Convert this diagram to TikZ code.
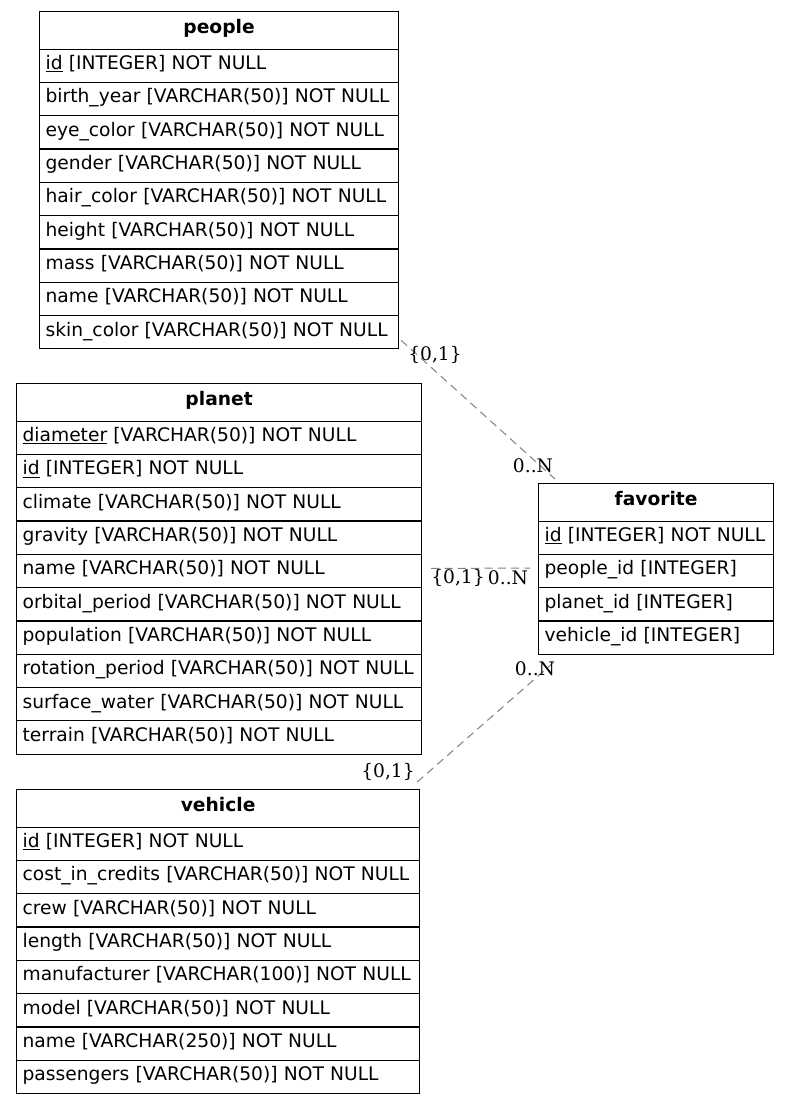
\documentclass[tikz,border=0pt]{standalone}
\usepackage{fontspec}
\newfontfamily\tblfont{DejaVu Sans}
\newfontfamily\lblfont{DejaVu Serif}
\begin{document}
\begin{tikzpicture}[x=0.75pt,y=-0.75pt,
  cell/.style={draw=black, line width=0.9pt, rectangle, anchor=north west,
    inner ysep=0pt, text height=10pt, text depth=4.2pt,
    font=\tblfont\fontsize{14}{16}\selectfont},
  head/.style={cell, minimum height=28.125pt, inner xsep=0pt, align=center, text depth=4.6pt},
  field/.style={cell, minimum height=24.975pt, inner xsep=4.5pt, align=left},
  rel/.style={draw=gray, line width=0.75pt, dash pattern=on 6pt off 4pt},
  card/.style={inner sep=0pt, font=\lblfont\fontsize{14}{16}\selectfont}]

% One entity table: #1 name, #2 left x, #3 top y, #4 width (px), #5 title, #6 field rows
\def\ertable#1#2#3#4#5#6{%
  \pgfmathsetmacro\ertw{#4*0.75-9}%
  \pgfmathsetmacro\ermw{#4*0.75}%
  \node[head, minimum width=\ermw pt] (#1-h) at (#2,#3) {\textbf{#5}};
  \foreach \fld [count=\i] in {#6} {
    \node[field, text width=\ertw pt] (#1-\i) at ({#2},{#3+37.5+(\i-1)*33.3}) {\fld};
  }%
}

\fill[white] (0,0) rectangle (789,1103);

\ertable{people}{39}{11}{359}{people}{%
  \underline{id} [INTEGER] NOT NULL,
  birth\_year [VARCHAR(50)] NOT NULL,
  eye\_color [VARCHAR(50)] NOT NULL,
  gender [VARCHAR(50)] NOT NULL,
  hair\_color [VARCHAR(50)] NOT NULL,
  height [VARCHAR(50)] NOT NULL,
  mass [VARCHAR(50)] NOT NULL,
  name [VARCHAR(50)] NOT NULL,
  skin\_color [VARCHAR(50)] NOT NULL}

\ertable{planet}{16}{383}{405}{planet}{%
  \underline{diameter} [VARCHAR(50)] NOT NULL,
  \underline{id} [INTEGER] NOT NULL,
  climate [VARCHAR(50)] NOT NULL,
  gravity [VARCHAR(50)] NOT NULL,
  name [VARCHAR(50)] NOT NULL,
  orbital\_period [VARCHAR(50)] NOT NULL,
  population [VARCHAR(50)] NOT NULL,
  rotation\_period [VARCHAR(50)] NOT NULL,
  surface\_water [VARCHAR(50)] NOT NULL,
  terrain [VARCHAR(50)] NOT NULL}

\ertable{vehicle}{16}{789}{403}{vehicle}{%
  \underline{id} [INTEGER] NOT NULL,
  cost\_in\_credits [VARCHAR(50)] NOT NULL,
  crew [VARCHAR(50)] NOT NULL,
  length [VARCHAR(50)] NOT NULL,
  manufacturer [VARCHAR(100)] NOT NULL,
  model [VARCHAR(50)] NOT NULL,
  name [VARCHAR(250)] NOT NULL,
  passengers [VARCHAR(50)] NOT NULL}

\ertable{favorite}{538}{483}{235}{favorite}{%
  \underline{id} [INTEGER] NOT NULL,
  people\_id [INTEGER],
  planet\_id [INTEGER],
  vehicle\_id [INTEGER]}

% relationships
\draw[rel] ([shift={(2,-9)}]people-9.south east) -- ([shift={(17,-4)}]favorite-h.north west);
\draw[rel] ([shift={(9,-2.5)}]planet-5.east) -- ([shift={(-8,-3)}]favorite-2.west);
\draw[rel] ([shift={(-3,-7)}]vehicle-h.north east) -- ([shift={(15,8)}]favorite-4.south west);

% cardinalities
\node[card] (pf-one)  at (435,355) {\{0,1\}};
\node[card] (pf-many) at (533,466) {0..N};
\node[card] (lf-one)  at (458,578) {\{0,1\}};
\node[card] (lf-many) at (508,578) {0..N};
\node[card] (vf-one)  at (388,772) {\{0,1\}};
\node[card] (vf-many) at (535,669) {0..N};

\end{tikzpicture}
\end{document}
